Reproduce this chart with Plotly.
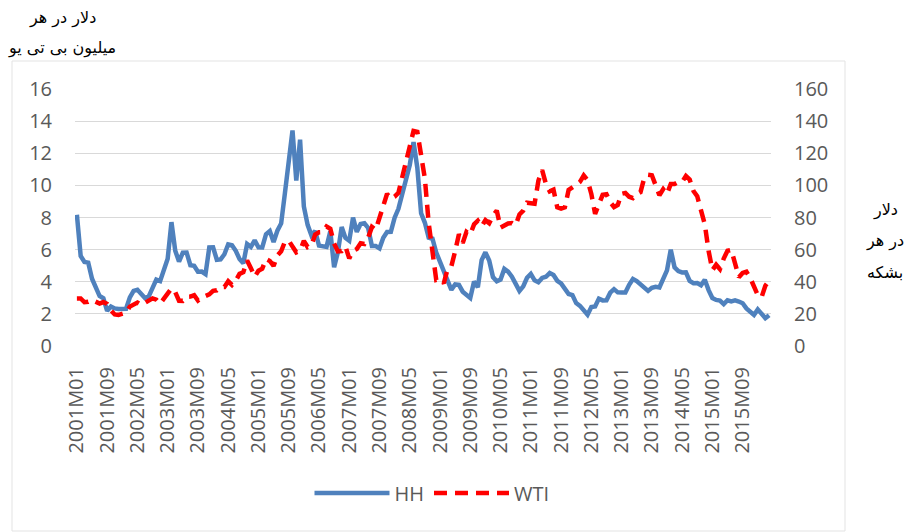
import plotly.graph_objects as go

months = [f"{y}M{m:02d}" for y in range(2001, 2017) for m in range(1, 13)][:184]

hh = [
    8.17, 5.61, 5.23, 5.19, 4.19, 3.72, 3.11, 2.97, 2.19, 2.46, 2.34, 2.30,
    2.32, 2.32, 3.03, 3.43, 3.50, 3.26, 2.99, 3.09, 3.55, 4.13, 4.04, 4.74,
    5.43, 7.71, 5.93, 5.26, 5.81, 5.82, 5.03, 4.99, 4.62, 4.63, 4.47, 6.13,
    6.14, 5.37, 5.39, 5.71, 6.33, 6.27, 5.93, 5.41, 5.15, 6.35, 6.17, 6.58,
    6.15, 6.14, 6.96, 7.16, 6.47, 7.18, 7.63, 9.53, 11.75, 13.42, 10.30, 12.85,
    8.69, 7.54, 6.89, 7.16, 6.25, 6.21, 6.17, 7.14, 4.90, 5.85, 7.41, 6.73,
    6.55, 8.00, 7.11, 7.60, 7.64, 7.35, 6.22, 6.22, 6.08, 6.74, 7.10, 7.11,
    7.99, 8.54, 9.41, 10.18, 11.27, 12.69, 11.09, 8.26, 7.67, 6.74, 6.68, 5.82,
    5.24, 4.52, 3.96, 3.50, 3.83, 3.80, 3.38, 3.14, 2.99, 4.01, 3.66, 5.35,
    5.83, 5.32, 4.29, 4.03, 4.14, 4.80, 4.63, 4.32, 3.89, 3.43, 3.71, 4.25,
    4.49, 4.09, 3.97, 4.24, 4.31, 4.54, 4.42, 4.06, 3.90, 3.57, 3.24, 3.17,
    2.67, 2.50, 2.17, 1.95, 2.43, 2.46, 2.95, 2.84, 2.85, 3.32, 3.54, 3.34,
    3.33, 3.33, 3.81, 4.17, 4.04, 3.83, 3.62, 3.43, 3.62, 3.68, 3.64, 4.24,
    4.71, 6.00, 4.90, 4.66, 4.58, 4.59, 4.05, 3.91, 3.92, 3.78, 4.12, 3.48,
    2.99, 2.87, 2.83, 2.61, 2.85, 2.78, 2.84, 2.77, 2.66, 2.34, 2.09, 1.93,
    2.28, 1.99, 1.73, 1.92,
]

wti = [
    29.59, 29.61, 27.25, 27.49, 28.63, 27.60, 26.43, 27.37, 26.20, 22.17, 19.64, 19.39,
    19.72, 20.72, 24.53, 26.18, 27.04, 25.52, 26.97, 28.39, 29.66, 28.84, 26.35, 29.46,
    32.95, 35.83, 33.51, 28.17, 28.11, 30.66, 30.75, 31.57, 28.31, 30.34, 31.11, 32.13,
    34.31, 34.69, 36.74, 36.75, 40.28, 38.03, 40.78, 44.90, 45.94, 53.28, 48.47, 43.15,
    46.84, 48.15, 54.19, 52.98, 49.83, 56.35, 59.00, 64.99, 65.59, 62.26, 58.32, 59.41,
    65.49, 61.63, 62.69, 69.44, 70.84, 70.95, 74.41, 73.04, 63.80, 58.89, 59.08, 61.96,
    54.51, 59.28, 60.44, 63.98, 63.46, 67.49, 74.12, 72.36, 79.92, 85.80, 94.77, 91.69,
    92.97, 95.39, 105.45, 112.58, 125.40, 133.88, 133.37, 116.67, 104.11, 76.61, 57.31, 41.12,
    41.71, 39.09, 47.94, 49.65, 59.03, 69.64, 64.15, 71.05, 69.41, 75.72, 77.99, 74.47,
    78.33, 76.39, 81.20, 84.29, 73.74, 75.34, 76.32, 76.60, 75.24, 81.89, 84.25, 89.15,
    89.17, 88.58, 102.86, 109.53, 100.90, 96.26, 97.30, 86.33, 85.52, 86.32, 97.16, 98.56,
    100.27, 102.20, 106.16, 103.32, 94.66, 82.30, 87.90, 94.13, 94.51, 89.49, 86.53, 87.86,
    94.76, 95.31, 92.94, 92.02, 94.51, 95.77, 104.67, 106.57, 106.29, 100.54, 93.86, 97.63,
    94.62, 100.82, 100.80, 102.07, 102.18, 105.79, 103.59, 96.54, 93.21, 84.40, 75.79, 59.29,
    47.22, 50.58, 47.82, 54.45, 59.27, 59.82, 50.90, 42.87, 45.48, 46.22, 42.44, 37.19,
    31.68, 30.32, 37.55, 40.75,
]

left_ticks = list(range(0, 17, 2))
right_ticks = list(range(0, 161, 20))
x_ticks = months[::8][:23]

left_title = ["دلار در هر", "میلیون بی تی یو"]
right_title = ["دلار", "در هر", "بشکه"]

W, H = 905, 532
L, R, T, B = 75, 771, 89, 346


def px(x):
    return (x - L) / (R - L)


def py(y):
    return (B - y) / (B - T)


tick_font = dict(family="Open Sans, Liberation Sans, sans-serif", size=20, color="#595959")
ar_font = dict(family="DejaVu Sans, sans-serif", size=16, color="#000000")

fig = go.Figure()
fig.add_trace(go.Scatter(x=months, y=hh, name="HH", mode="lines",
                         line=dict(color="#4F81BD", width=4.5), yaxis="y"))
fig.add_trace(go.Scatter(x=months, y=wti, name="WTI", mode="lines",
                         line=dict(color="#FF0000", width=4.5, dash="13px,8px"), yaxis="y2"))

fig.update_layout(
    width=W, height=H,
    margin=dict(l=L, r=W - R, t=T, b=H - B),
    plot_bgcolor="white", paper_bgcolor="white",
    showlegend=True,
    legend=dict(orientation="h", x=px(432), xanchor="center", y=py(493), yanchor="middle",
                font=tick_font, itemwidth=75, traceorder="normal"),
    xaxis=dict(type="category", range=[-0.5, len(months) - 0.5],
               tickmode="array", tickvals=x_ticks, ticktext=x_ticks,
               tickangle=-90, tickfont=tick_font, showgrid=False,
               ticks="outside", ticklen=12, tickcolor="rgba(0,0,0,0)",
               showline=False, zeroline=False),
    yaxis=dict(range=[0, 16], tickmode="array", tickvals=left_ticks,
               tickfont=tick_font, showgrid=True, gridcolor="#d9d9d9", gridwidth=1,
               ticks="outside", ticklen=18, tickcolor="rgba(0,0,0,0)",
               zeroline=False, showline=False),
    yaxis2=dict(range=[0, 160], tickmode="array", tickvals=right_ticks,
                overlaying="y", side="right", tickfont=tick_font, showgrid=False,
                ticks="outside", ticklen=18, tickcolor="rgba(0,0,0,0)",
                zeroline=False, showline=False),
)

annotations = []
for txt, yy in zip(left_title, [18, 48]):
    annotations.append(dict(text=txt, x=px(62), y=py(yy), xref="paper", yref="paper",
                            xanchor="center", yanchor="middle", showarrow=False, font=ar_font))
for txt, yy in zip(right_title, [210, 241, 272]):
    annotations.append(dict(text=txt, x=px(885), y=py(yy), xref="paper", yref="paper",
                            xanchor="center", yanchor="middle", showarrow=False, font=ar_font))
fig.update_layout(annotations=annotations)

fig.add_shape(type="rect", xref="paper", yref="paper",
              x0=px(12), x1=px(845), y0=py(531), y1=py(61),
              line=dict(color="#e3e3e3", width=1), fillcolor="rgba(0,0,0,0)", layer="below")

fig.write_html("out.html", config={"displayModeBar": False},
               post_script="document.body.style.margin='0px';document.body.style.overflow='hidden';")
